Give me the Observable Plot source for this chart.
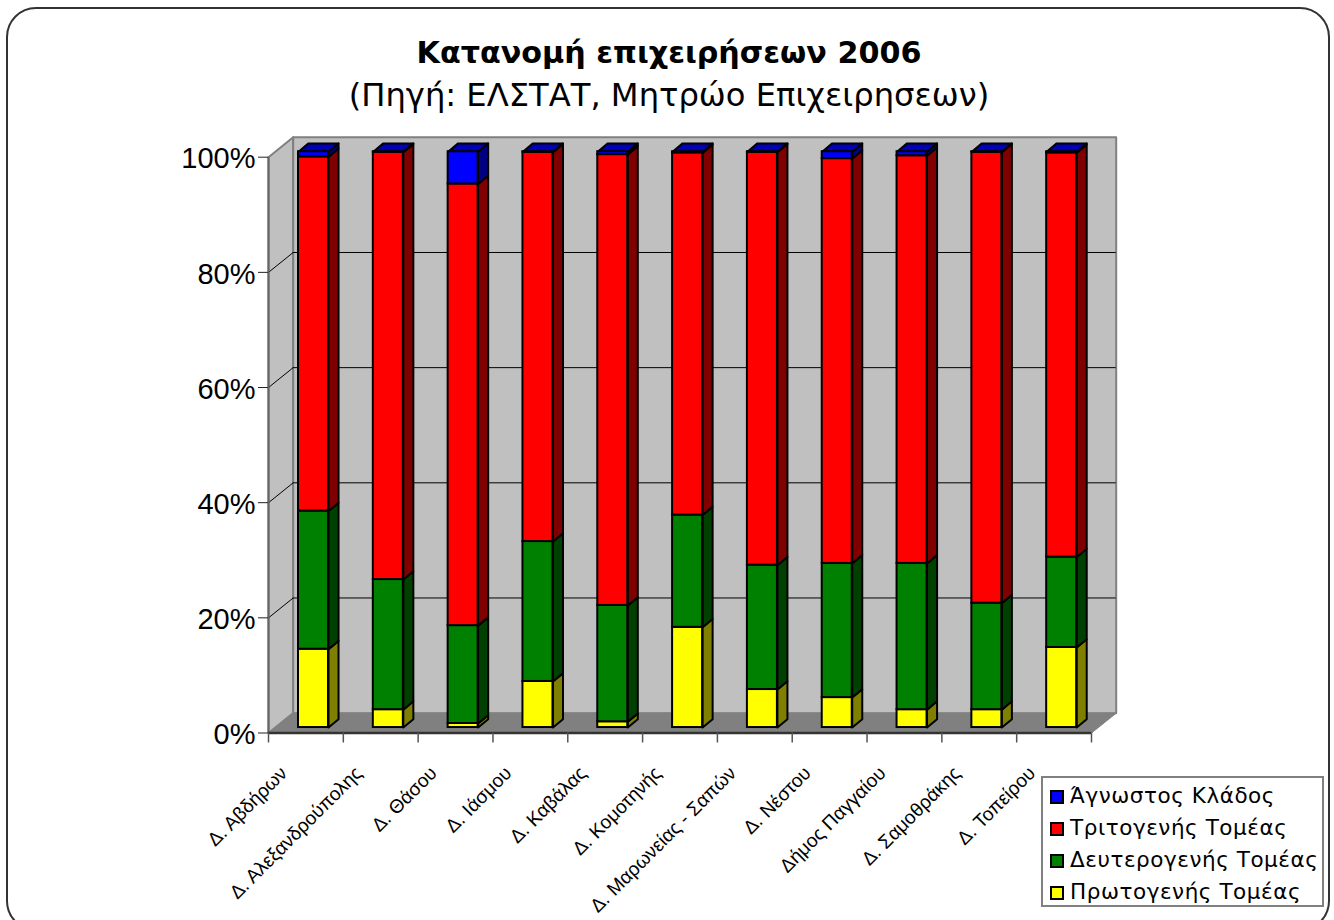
<!DOCTYPE html>
<html lang="el">
<head>
<meta charset="utf-8">
<script src="https://cdn.jsdelivr.net/npm/d3@7"></script>
<script src="https://cdn.jsdelivr.net/npm/@observablehq/plot@0.6"></script>
<style>
html,body{margin:0;padding:0;background:#fff;overflow:hidden}
#page{position:relative;width:1334px;height:920px;overflow:hidden;background:#fff}
#frame{position:absolute;left:6px;top:7px;width:1320px;height:920px;border:2px solid #333;border-radius:30px;box-sizing:content-box}
#plot{position:absolute;left:0;top:0}
#title,#subtitle{position:absolute;left:0;width:1334px;text-align:center;font-family:"DejaVu Sans",sans-serif;color:#000;white-space:nowrap}
#title{top:35px;font-size:30.2px;font-weight:bold;padding-left:2px}
#subtitle{top:76px;font-size:32.2px;padding-left:2px}
#legend{position:absolute;left:1041px;top:776px;width:279px;height:127px;border:2px solid #808080;background:#fff;font-family:"DejaVu Sans",sans-serif;font-size:21.5px;color:#000}
.row{position:absolute;left:0;height:32px;white-space:nowrap}
.sw{position:absolute;left:7px;top:10px;width:10px;height:10px;border:2px solid #000}
.lb{position:absolute;left:27px;top:3px;letter-spacing:.55px}
</style>
</head>
<body>
<div id="page">
<div id="frame"></div>
<div id="plot"></div>
<div id="title"></div>
<div id="subtitle"></div>
<div id="legend"></div>
</div>
<script>
const titleText = "Κατανομή επιχειρήσεων 2006";
const subtitleText = "(Πηγή: ΕΛΣΤΑΤ, Μητρώο Επιχειρησεων)";
const municipalities = ["Δ. Αβδήρων","Δ. Αλεξανδρούπολης","Δ. Θάσου","Δ. Ιάσμου","Δ. Καβάλας","Δ. Κομοτηνής","Δ. Μαρωνείας - Σαπών","Δ. Νέστου","Δήμος Παγγαίου","Δ. Σαμοθράκης","Δ. Τοπείρου"];
const primary   = [13.6, 3.1, 0.7, 8.0, 1.0, 17.4, 6.6, 5.2, 3.1, 3.1, 13.9];
const secondary = [24.0,22.6,17.0,24.3,20.2, 19.5,21.6,23.3,25.4,18.5, 15.7];
const tertiary  = [61.5,74.2,76.7,67.6,78.3, 62.9,71.7,70.3,70.8,78.3, 70.2];
const unknown   = [ 0.9, 0.1, 5.6, 0.1, 0.5,  0.2, 0.1, 1.2, 0.7, 0.1,  0.2];
const seriesNames = ["Πρωτογενής Τομέας","Δευτερογενής Τομέας","Τριτογενής Τομέας","Άγνωστος Κλάδος"];
const seriesValues = [primary, secondary, tertiary, unknown];
const frontColors = ["#ffff00","#008000","#ff0000","#0000ff"];
const sideColors  = ["#808000","#004000","#800000","#000080"];
const topColor = "#0000b8";
const yTicks = [0,20,40,60,80,100];

// Depth of the pseudo-3D box and bars, in data units
const wallDx = 0.33, wallDy = 3.45;
const barDx = 0.134, barDy = 1.45;
const barStart = 0.401, barWidth = 0.401, barBase = 0.95;
const n = municipalities.length;

const fronts = [], sides = [], tops = [];
municipalities.forEach((m, i) => {
  let acc = 0;
  const x1 = i + barStart, x2 = x1 + barWidth;
  seriesValues.forEach((vals, s) => {
    const y1 = acc, y2 = acc + vals[i];
    acc = y2;
    const b = y1 + barBase, t = y2 + barBase;
    fronts.push({x1, x2, y1: b, y2: t, fill: frontColors[s]});
    const id = `${i}-${s}`;
    [[x2,b],[x2+barDx,b+barDy],[x2+barDx,t+barDy],[x2,t],[x2,b]].forEach(([x,y]) => sides.push({id, x, y, fill: sideColors[s]}));
    if (s === seriesValues.length - 1)
      [[x1,t],[x1+barDx,t+barDy],[x2+barDx,t+barDy],[x2,t],[x1,t]].forEach(([x,y]) => tops.push({id, x, y, fill: topColor}));
  });
});

const poly = (id, fill, pts) => pts.map(([x,y]) => ({id, x, y, fill}));
const walls = [
  ...poly("left", "#c0c0c0", [[0,0],[wallDx,wallDy],[wallDx,100+wallDy],[0,100],[0,0]]),
  ...poly("back", "#c0c0c0", [[wallDx,wallDy],[n+wallDx,wallDy],[n+wallDx,100+wallDy],[wallDx,100+wallDy],[wallDx,wallDy]])
];
const floor = poly("floor", "#808080", [[0,0],[n,0],[n+wallDx,wallDy],[wallDx,wallDy],[0,0]]);

const chart = Plot.plot({
  width: 1334, height: 920,
  marginLeft: 268, marginRight: 243, marginTop: 156.7, marginBottom: 187.5,
  style: {background: "transparent", fontFamily: "'Liberation Sans',sans-serif", color: "#000", overflow: "visible"},
  x: {domain: [0, n], axis: null},
  y: {domain: [0, 100], axis: null},
  marks: [
    Plot.line(walls, {x: "x", y: "y", z: "id", fill: "fill", stroke: "#808080", strokeWidth: 2}),
    Plot.line(floor, {x: "x", y: "y", z: "id", fill: "fill", stroke: "#808080", strokeWidth: 1}),
    // grid on the back wall and its diagonals on the left wall
    Plot.ruleY(yTicks.filter(d => d > 0 && d < 100), {y: d => d + wallDy, x1: wallDx, x2: n + wallDx, stroke: "#000", strokeWidth: 1, strokeOpacity: 1}),
    Plot.link(yTicks.filter(d => d > 0 && d < 100), {x1: 0, y1: d => d, x2: wallDx, y2: d => d + wallDy, stroke: "#000", strokeWidth: 1}),
    // axis lines
    Plot.ruleX([0], {y1: 0, y2: 100, stroke: "#666", strokeWidth: 2}),
    Plot.ruleY([0], {x1: 0, x2: n, stroke: "#333", strokeWidth: 2.5}),
    // axes: tick marks and, nudged slightly lower, their labels
    Plot.axisY(yTicks, {tickSize: 10, tickFormat: () => "", label: null, stroke: "#222"}),
    Plot.axisY(yTicks, {tickSize: 0, tickPadding: 13, fontSize: 29, tickFormat: d => d + "%", label: null, dy: 2}),
    Plot.axisX(d3.range(n + 1), {tickSize: 10, tickFormat: () => "", label: null, stroke: "#555", strokeWidth: 1.5}),
    // bars
    Plot.line(sides, {x: "x", y: "y", z: "id", fill: "fill", stroke: "#000", strokeWidth: 2}),
    Plot.line(tops, {x: "x", y: "y", z: "id", fill: "fill", stroke: "#000", strokeWidth: 2}),
    Plot.rect(fronts, {x1: "x1", x2: "x2", y1: "y1", y2: "y2", fill: "fill", stroke: "#000", strokeWidth: 2}),
    // category labels
    Plot.text(municipalities, {
      x: (d, i) => i + 0.5, y: 0, text: d => d,
      rotate: -45, textAnchor: "end", lineAnchor: "middle",
      dx: -22, dy: 37, fontSize: 19.2, fill: "#000"
    })
  ]
});
document.getElementById("plot").appendChild(chart);
document.getElementById("title").textContent = titleText;
document.getElementById("subtitle").textContent = subtitleText;
const legend = document.getElementById("legend");
[3,2,1,0].forEach((s, r) => {
  const row = document.createElement("div");
  row.className = "row";
  row.style.top = (2 + r * 32) + "px";
  const sw = document.createElement("span"); sw.className = "sw"; sw.style.background = frontColors[s];
  const lb = document.createElement("span"); lb.className = "lb"; lb.textContent = seriesNames[s];
  row.append(sw, lb);
  legend.appendChild(row);
});
</script>
</body>
</html>
